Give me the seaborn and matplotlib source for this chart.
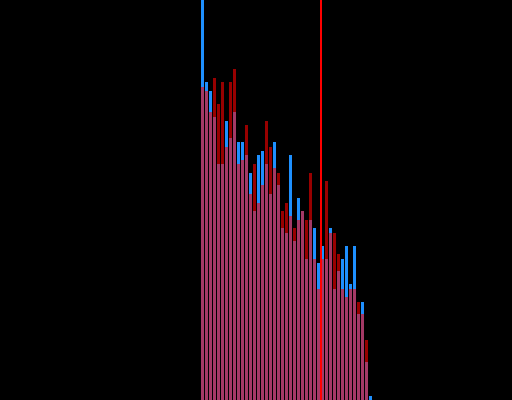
import numpy as np
import pandas as pd
import matplotlib
matplotlib.use("Agg")
import matplotlib.pyplot as plt
import seaborn as sns

# bin index (left edge) of each histogram bin
bins = list(range(43))
blue_vals = [400, 318, 309, 283, 236, 236, 279, 262, 288, 258, 258, 245, 227, 189, 245,
             249, 236, 206, 258, 215, 172, 167, 245, 159, 202, 189, 141, 180, 172, 137,
             154, 141, 172, 111, 129, 141, 154, 116, 154, 86, 98, 38, 4]
red_vals = [313, 309, 288, 322, 296, 318, 253, 318, 331, 236, 240, 275, 206, 236, 197,
            215, 279, 253, 232, 227, 189, 197, 184, 172, 180, 189, 180, 227, 141, 111,
            141, 219, 167, 167, 146, 111, 103, 111, 111, 98, 86, 60, 0]
marker_x = 30.125

edges = [float(b) for b in bins] + [float(bins[-1] + 1)]
df = pd.DataFrame({"center": np.array(bins) + 0.5,
                   "blue": blue_vals, "red": red_vals})

fig = plt.figure(figsize=(5.12, 4.0), dpi=100, facecolor="black")
ax = fig.add_axes([0, 0, 1, 1])
ax.set_facecolor("black")

sns.histplot(data=df, x="center", weights="blue", bins=edges, shrink=0.75,
             color="#1e90ff", alpha=1.0, linewidth=0, ax=ax)
sns.histplot(data=df, x="center", weights="red", bins=edges, shrink=0.75,
             color="#ff0000", alpha=0.6, linewidth=0, ax=ax)
ax.axvline(marker_x, color="#ff0000", linewidth=1.44)

ax.set_xlim(-50.125, 77.875)
ax.set_ylim(0, 400)
ax.set_axis_off()

fig.savefig("out.png", dpi=100, facecolor="black")
